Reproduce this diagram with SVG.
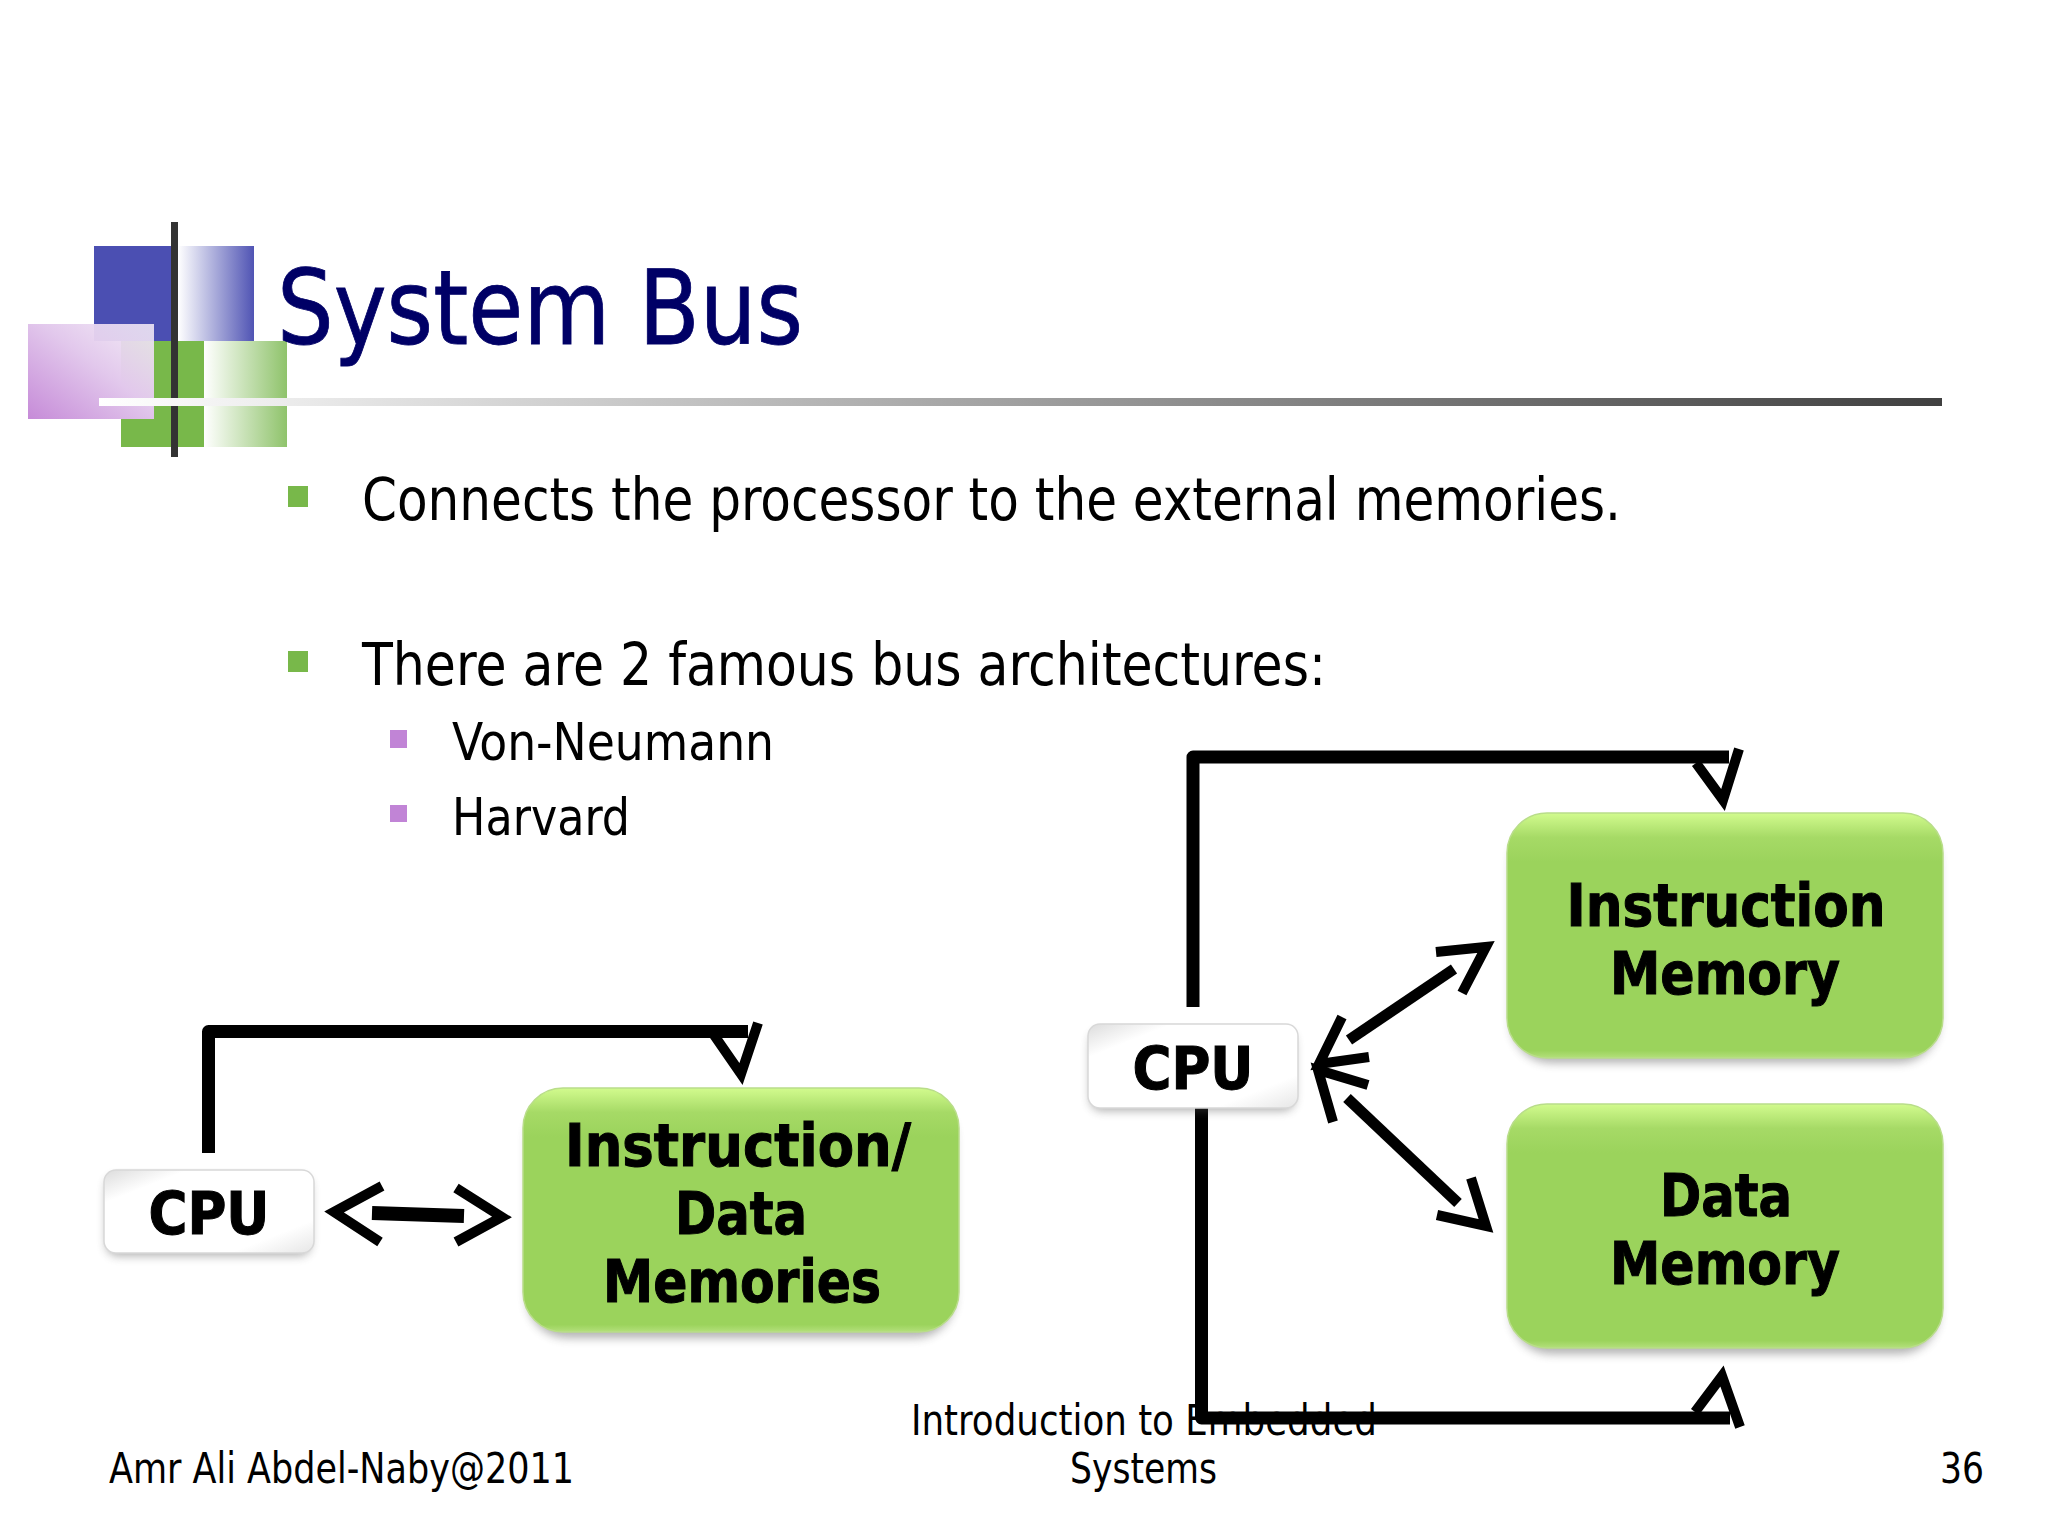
<svg xmlns="http://www.w3.org/2000/svg" width="2048" height="1536" viewBox="0 0 2048 1536">
<style>
text{font-family:"DejaVu Sans Condensed","DejaVu Sans",sans-serif;fill:#000}
.title{font-size:103px;fill:#000066;stroke:#000066;stroke-width:.8}
.b1{font-size:58px}
.b2{font-size:52px}
.foot{font-size:42px}
.lab{font-size:59px;font-weight:700;text-anchor:middle;stroke:#000;stroke-width:1}
.green{fill:url(#gbody);stroke:#b9dd8a;stroke-width:1.5}
.cpu{fill:url(#cbody);stroke:#d8d8d8;stroke-width:1.5}
.shadow{fill:#555;opacity:.45;filter:url(#blur)}
.line{fill:none;stroke:#000;stroke-width:13;stroke-linejoin:round}
.shaft{fill:none;stroke:#000;stroke-width:14}
.head{fill:none;stroke:#000;stroke-width:10;stroke-linejoin:miter;stroke-miterlimit:10}
</style>
<defs>
<linearGradient id="gbody" x1="0" y1="0" x2="0" y2="1"><stop offset="0" stop-color="#d2fb8e"/><stop offset=".1" stop-color="#a6da66"/><stop offset=".2" stop-color="#9bd35c"/><stop offset=".97" stop-color="#9bd35c"/><stop offset="1" stop-color="#b4e07c"/></linearGradient>
<linearGradient id="cbody" x1="0" y1="0" x2="1" y2="1"><stop offset="0" stop-color="#dcdcdc"/><stop offset=".2" stop-color="#fff"/><stop offset=".8" stop-color="#fff"/><stop offset="1" stop-color="#e6e6e6"/></linearGradient>
<linearGradient id="lblue" x1="0" x2="1" y1="0" y2="0"><stop offset="0" stop-color="#fff"/><stop offset="1" stop-color="#5054b4"/></linearGradient>
<linearGradient id="lgreen" x1="0" x2="1" y1="0" y2="0"><stop offset="0" stop-color="#fff"/><stop offset="1" stop-color="#8fc36b"/></linearGradient>
<linearGradient id="lpurple" x1="0" x2="1" y1="1" y2="0"><stop offset="0" stop-color="#c68bd8"/><stop offset=".55" stop-color="#e2c8ec"/><stop offset="1" stop-color="#f2eaf6" stop-opacity=".88"/></linearGradient>
<linearGradient id="lrule" x1="0" x2="1" y1="0" y2="0"><stop offset="0" stop-color="#fff"/><stop offset="1" stop-color="#404040"/></linearGradient>
<filter id="blur" x="-10%" y="-10%" width="120%" height="130%"><feGaussianBlur stdDeviation="5"/></filter>
</defs>
<rect width="2048" height="1536" fill="#fff"/>
<g id="logo">
<rect x="94" y="246" width="84" height="95" fill="#4b4fb2"/>
<rect x="178" y="246" width="76" height="95" fill="url(#lblue)"/>
<rect x="121" y="341" width="83" height="106" fill="#78b84a"/>
<rect x="204" y="341" width="83" height="106" fill="url(#lgreen)"/>
<rect x="28" y="324" width="126" height="95" fill="url(#lpurple)"/>
<rect x="171" y="222" width="7" height="235" fill="#333"/>
<rect x="99" y="398" width="1843" height="8" fill="url(#lrule)"/>
</g>
<text class="title" x="277" y="344" textLength="526" lengthAdjust="spacingAndGlyphs">System Bus</text>
<g id="bullets">
<rect x="288" y="486" width="20" height="21" fill="#78b84a"/>
<text class="b1" x="362" y="520" textLength="1259" lengthAdjust="spacingAndGlyphs">Connects the processor to the external memories.</text>
<rect x="288" y="651" width="20" height="21" fill="#78b84a"/>
<text class="b1" x="362" y="685" textLength="964" lengthAdjust="spacingAndGlyphs">There are 2 famous bus architectures:</text>
<rect x="390" y="730" width="17" height="18" fill="#c184d6"/>
<text class="b2" x="452" y="760" textLength="322" lengthAdjust="spacingAndGlyphs">Von-Neumann</text>
<rect x="390" y="805" width="17" height="17" fill="#c184d6"/>
<text class="b2" x="452" y="835" textLength="178" lengthAdjust="spacingAndGlyphs">Harvard</text>
</g>
<g id="footer">
<text class="foot" x="109" y="1483" textLength="465" lengthAdjust="spacingAndGlyphs">Amr Ali Abdel-Naby@2011</text>
<text class="foot" x="911" y="1435" textLength="466" lengthAdjust="spacingAndGlyphs">Introduction to Embedded</text>
<text class="foot" x="1070" y="1483" textLength="147" lengthAdjust="spacingAndGlyphs">Systems</text>
<text class="foot" x="1940" y="1483" textLength="44" lengthAdjust="spacingAndGlyphs">36</text>
</g>
<g id="connectors">
<path class="line" d="M208.500 1153V1031.500H748"/>
<path class="head" d="M714 1035L741 1074L758 1023"/>
<path class="shaft" d="M372 1213L464 1216"/>
<path class="head" d="M382 1186L334 1212L380 1242"/>
<path class="head" d="M456 1188L502 1217L456 1242"/>
<path class="line" d="M1193 1007V757H1729"/>
<path class="head" d="M1696 763L1723 800L1739 749"/>
<path class="shaft" d="M1454 969L1349 1040" style="stroke-width:11"/>
<path class="head" d="M1436 952L1486 947L1462 993"/>
<path class="head" d="M1342 1017L1319 1064L1369 1057"/>
<path class="shaft" d="M1347 1098L1458 1203" style="stroke-width:11"/>
<path class="head" d="M1368 1085L1318 1070L1333 1122"/>
<path class="head" d="M1471 1178L1486 1226L1437 1215"/>
<path class="line" d="M1201.500 1107V1418H1730"/>
<path class="head" d="M1695 1412L1722 1376L1740 1427"/>
</g>
<g id="cpu-left">
<rect class="shadow" x="106" y="1176" width="205" height="80" rx="12"/>
<rect class="cpu" x="104" y="1170" width="210" height="83" rx="12"/>
<text class="lab" x="209" y="1234">CPU</text>
</g>
<g id="instruction-data-memories">
<rect class="shadow" x="527" y="1098" width="428" height="240" rx="40"/>
<rect class="green" x="523" y="1088" width="436" height="244" rx="40"/>
<text class="lab" x="738" y="1166" textLength="346" lengthAdjust="spacingAndGlyphs">Instruction/</text>
<text class="lab" x="741" y="1234" textLength="132" lengthAdjust="spacingAndGlyphs">Data</text>
<text class="lab" x="742" y="1302" textLength="278" lengthAdjust="spacingAndGlyphs">Memories</text>
</g>
<g id="cpu-right">
<rect class="shadow" x="1090" y="1031" width="205" height="80" rx="12"/>
<rect class="cpu" x="1088" y="1024" width="210" height="84" rx="12"/>
<text class="lab" x="1193" y="1089">CPU</text>
</g>
<g id="instruction-memory">
<rect class="shadow" x="1511" y="823" width="428" height="240" rx="40"/>
<rect class="green" x="1507" y="813" width="436" height="245" rx="40"/>
<text class="lab" x="1726" y="926" textLength="319" lengthAdjust="spacingAndGlyphs">Instruction</text>
<text class="lab" x="1725" y="994" textLength="230" lengthAdjust="spacingAndGlyphs">Memory</text>
</g>
<g id="data-memory">
<rect class="shadow" x="1511" y="1114" width="428" height="240" rx="40"/>
<rect class="green" x="1507" y="1104" width="436" height="244" rx="40"/>
<text class="lab" x="1726" y="1216" textLength="132" lengthAdjust="spacingAndGlyphs">Data</text>
<text class="lab" x="1725" y="1284" textLength="230" lengthAdjust="spacingAndGlyphs">Memory</text>
</g>
</svg>
